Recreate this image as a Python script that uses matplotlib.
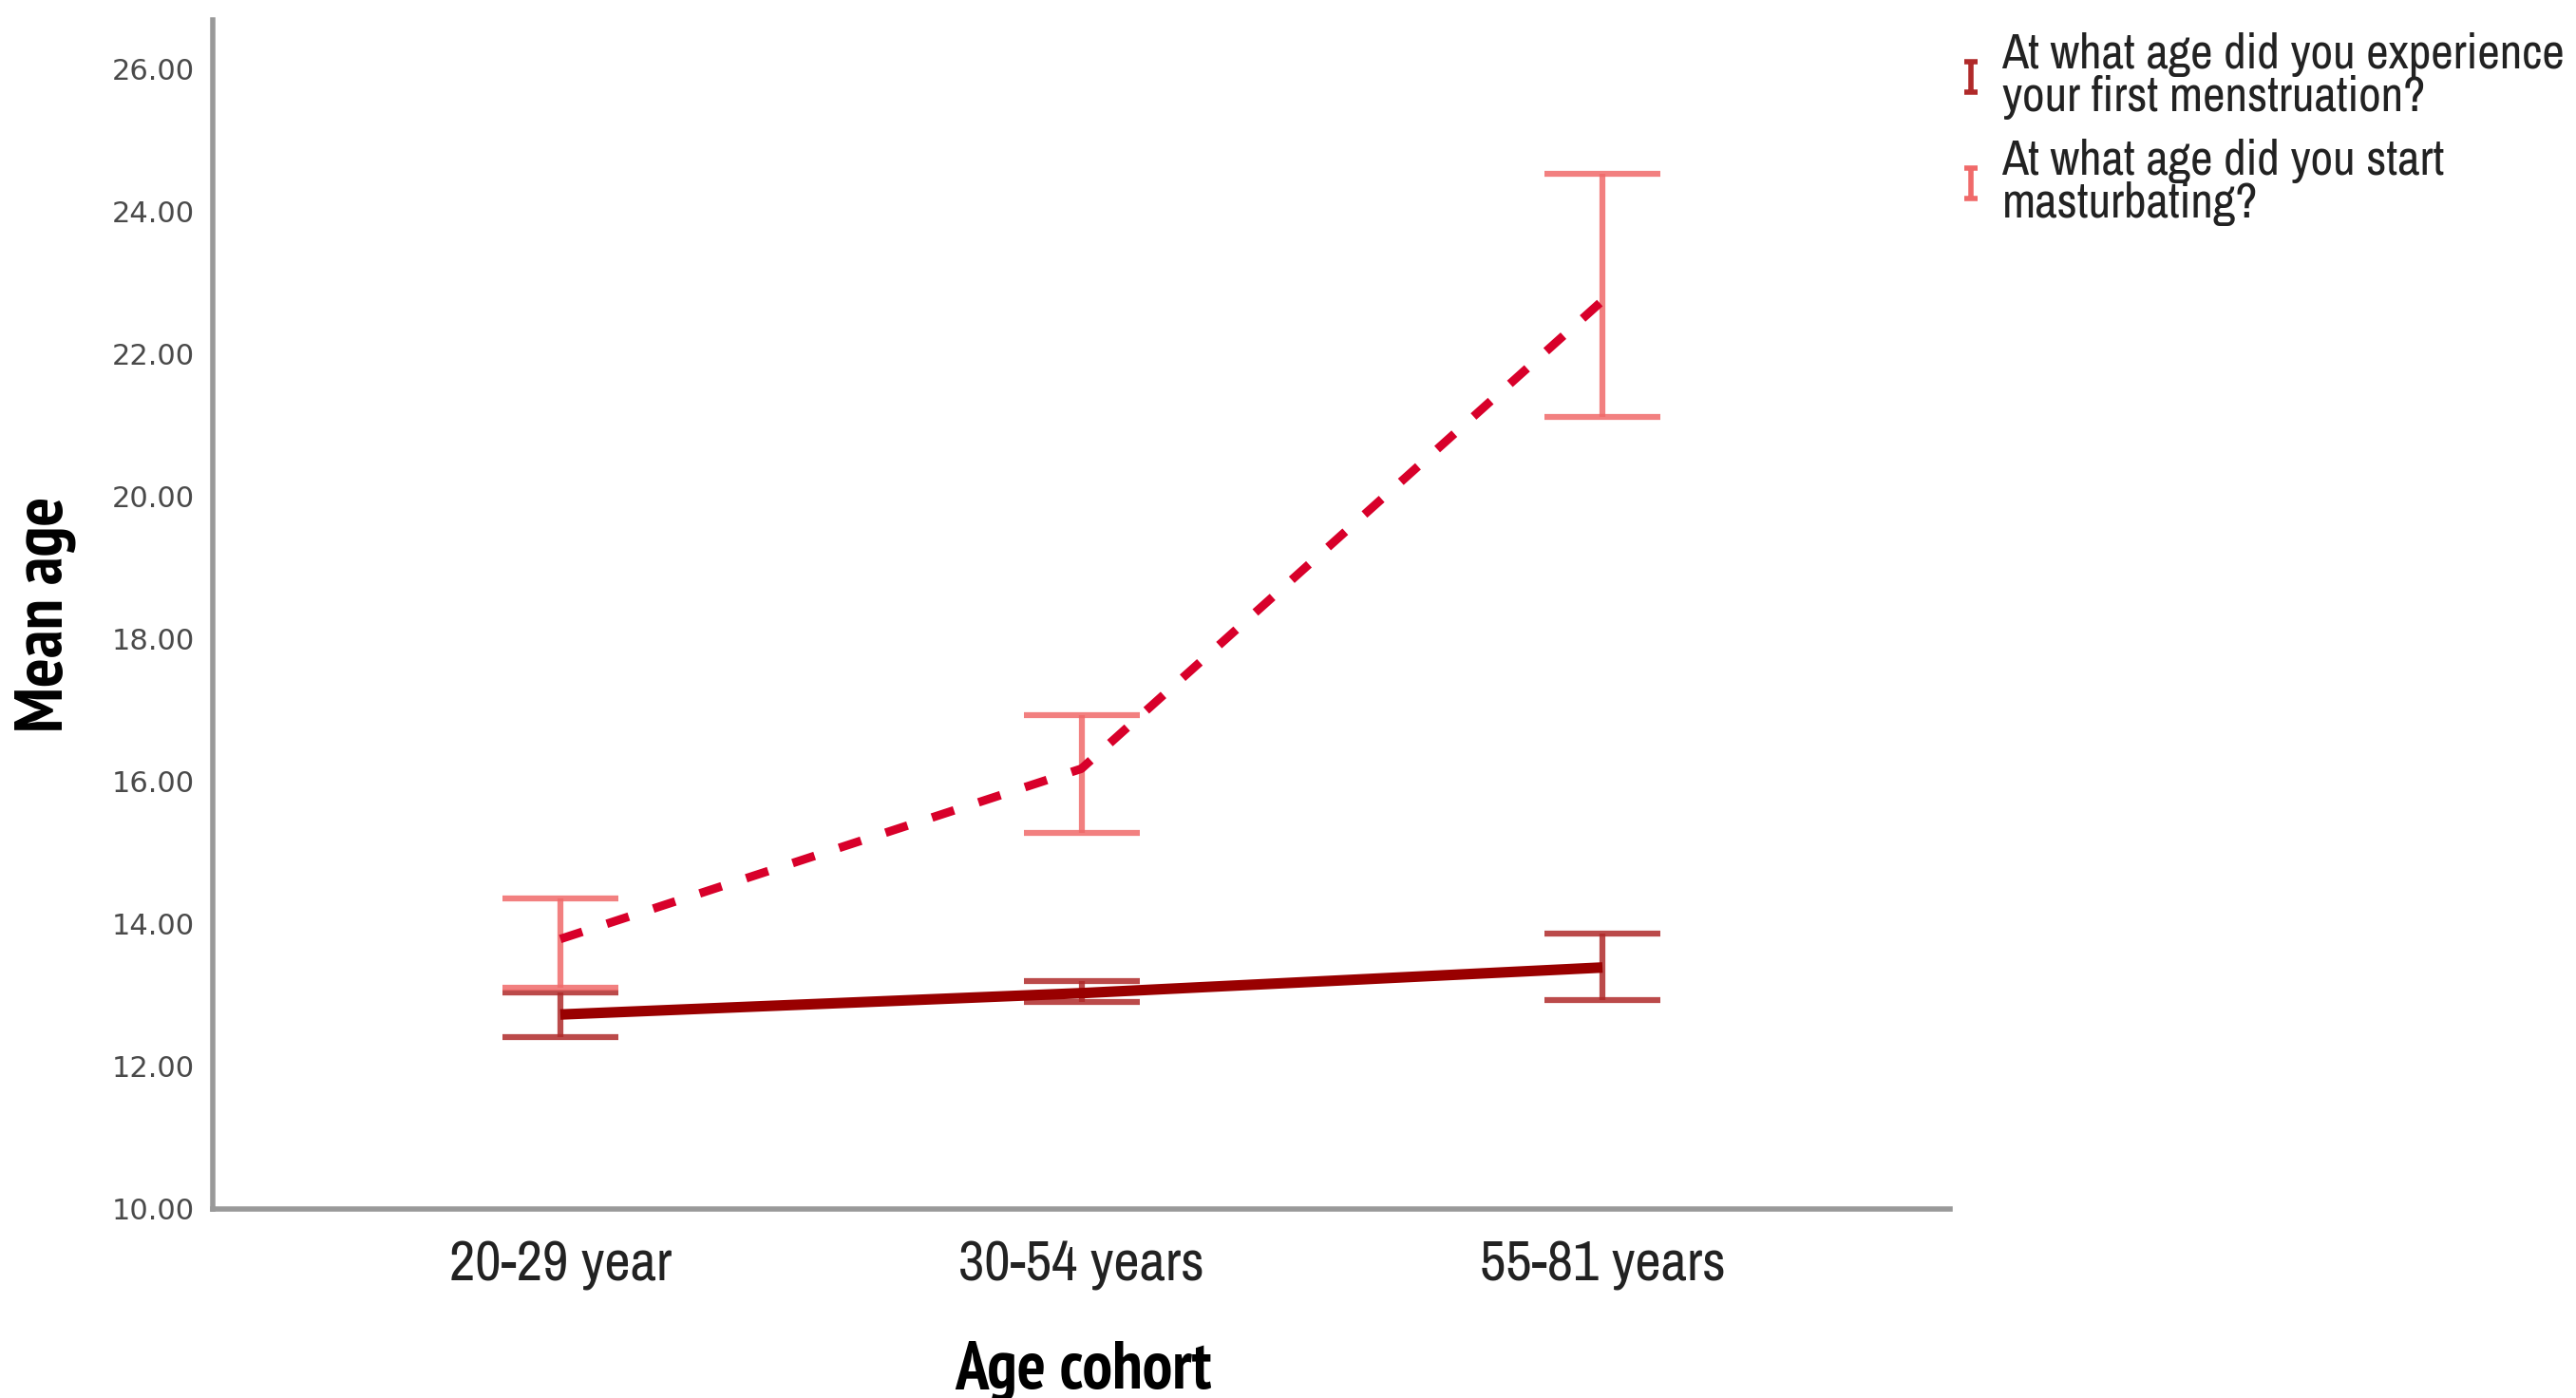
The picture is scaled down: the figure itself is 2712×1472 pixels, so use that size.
# Mean age by age cohort, with error bars (SPSS style line chart)

import matplotlib
matplotlib.use("Agg")
import matplotlib.pyplot as plt
from matplotlib import font_manager
from matplotlib.path import Path
from matplotlib.lines import Line2D

# data
cohorts = ["20-29 year", "30-54 years", "55-81 years"]

menst_mean = [12.73, 13.03, 13.39]
menst_low = [12.41, 12.90, 12.93]
menst_high = [13.04, 13.20, 13.86]

mast_mean = [13.79, 16.18, 22.75]
mast_low = [13.11, 15.28, 21.12]
mast_high = [14.36, 16.93, 24.53]

labels = ["At what age did you experience\nyour first menstruation?",
          "At what age did you start\nmasturbating?"]

# fonts: narrow arial-like font, first one that is installed
weights = {}
for f in font_manager.fontManager.ttflist:
    w = f.weight if isinstance(f.weight, int) else 400
    weights.setdefault(f.name, set()).add(w)

cands = ["Liberation Sans Narrow", "Arial Narrow", "Archivo Narrow",
         "PT Sans Narrow", "Roboto Condensed", "Arimo"]
narrow = "Liberation Sans"
for c in cands:
    if c in weights:
        narrow = c
        break
# bold needs a real bold face
bold_font, bold_scale = "Liberation Sans", 0.87
for c in cands:
    if c in weights and max(weights[c]) >= 700:
        bold_font, bold_scale = c, 1.0
        break

fig = plt.figure(figsize=(27.12, 14.72), dpi=100)
ax = fig.add_axes([224 / 2712, 1 - 1273 / 1472, (2053 - 224) / 2712, (1273 - 21) / 1472])

x = list(range(len(cohorts)))

err_m = [[m - l for m, l in zip(menst_mean, menst_low)],
         [h - m for m, h in zip(menst_mean, menst_high)]]
err_s = [[m - l for m, l in zip(mast_mean, mast_low)],
         [h - m for m, h in zip(mast_mean, mast_high)]]

c_m_err = '#b02a2a'
c_s_err = '#f06a6a'

ax.errorbar(x, menst_mean, yerr=err_m, fmt='none', ecolor=c_m_err,
            elinewidth=4.5, capsize=44, capthick=4.5, alpha=0.85, zorder=2)
ax.errorbar(x, mast_mean, yerr=err_s, fmt='none', ecolor=c_s_err,
            elinewidth=4.5, capsize=44, capthick=4.5, alpha=0.85, zorder=2)

# mean lines
ax.plot(x, menst_mean, color='#990000', lw=8, solid_capstyle='butt', zorder=3)
ax.plot(x, mast_mean, color='#d8002a', lw=6.5, dashes=(2.7, 3.0),
        dash_capstyle='butt', zorder=3)

ax.set_xlim(-0.667, 2.667)
ax.set_ylim(10, 26.69)
ax.set_yticks([10, 12, 14, 16, 18, 20, 22, 24, 26])
ax.set_yticklabels(["%.2f" % v for v in ax.get_yticks()],
                   fontfamily='DejaVu Sans', fontsize=22, color='#4a4a4a')
ax.set_xticks(x)
ax.set_xticklabels(cohorts, fontfamily=narrow, fontsize=43, color='#222222')
ax.tick_params(axis='y', length=0, pad=14)
ax.tick_params(axis='x', length=0, pad=24)

for s in ['top', 'right']:
    ax.spines[s].set_visible(False)
for s in ['left', 'bottom']:
    ax.spines[s].set_color('#999999')
    ax.spines[s].set_linewidth(4)

ax.set_ylabel("Mean age", fontfamily=bold_font, fontweight='bold',
              fontsize=52 * bold_scale)
ax.yaxis.set_label_coords(-0.079, 0.5)
ax.set_xlabel("Age cohort", fontfamily=bold_font, fontweight='bold',
              fontsize=51 * bold_scale)
ax.xaxis.set_label_coords(0.501, -0.111)

# legend glyph: small error bar "I"
ibar = Path([(-0.45, 1), (0.45, 1), (0, 1), (0, -1), (-0.45, -1), (0.45, -1)],
            [Path.MOVETO, Path.LINETO, Path.MOVETO, Path.LINETO, Path.MOVETO, Path.LINETO])
h1 = Line2D([], [], ls='none', marker=ibar, markersize=23, mfc='none',
            mec=c_m_err, mew=4)
h2 = Line2D([], [], ls='none', marker=ibar, markersize=23, mfc='none',
            mec=c_s_err, mew=4)

leg = fig.legend([h1, h2], labels, loc='upper left',
                 bbox_to_anchor=(2052 / 2712, 1 - 34 / 1472), frameon=False,
                 prop={'family': narrow, 'size': 37}, handlelength=0.9,
                 handletextpad=0.18, labelspacing=0.38, borderpad=0, borderaxespad=0)
for t in leg.get_texts():
    t.set_color('#222222')
    t.set_linespacing(0.95)

fig.savefig("out.png", dpi=100)
